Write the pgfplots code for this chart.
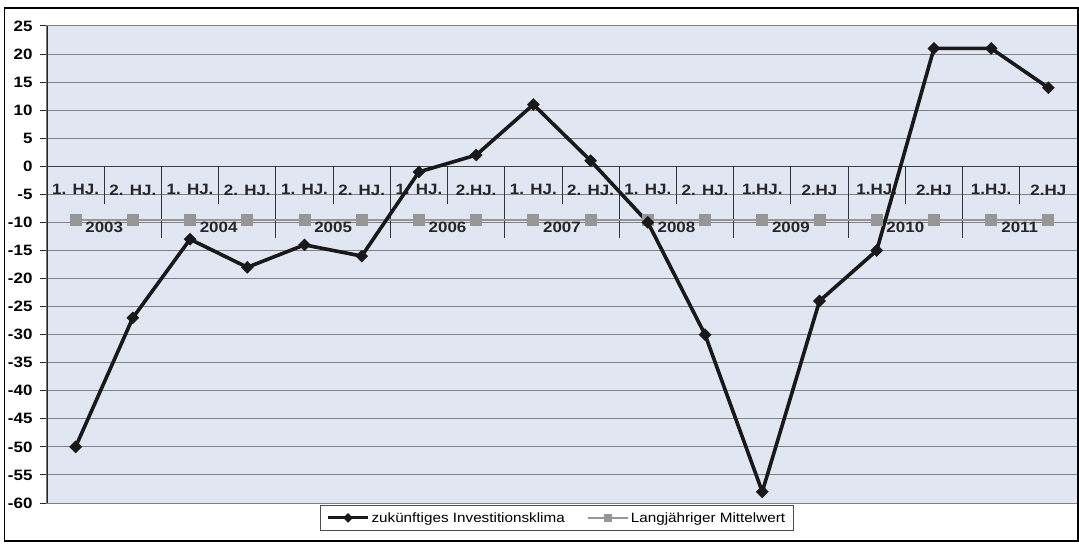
\documentclass[border=0pt]{standalone}
\usepackage{fontspec}
\setmainfont{Liberation Sans}[FakeStretch=1.13]
\usepackage{pgfplots}
\pgfplotsset{compat=1.18}
\usetikzlibrary{calc}
\definecolor{bgc}{RGB}{225,230,243}
\definecolor{gridc}{RGB}{130,130,130}
\definecolor{meanc}{RGB}{150,150,150}
\begin{document}
\begin{tikzpicture}[x=1pt,y=1pt]
\begin{axis}[
  scale only axis, width=1030pt, height=477pt,
  xmin=-0.5, xmax=17.5, ymin=-60, ymax=25,
  xtick=\empty,
  ytick={-60,-55,...,25},
  ymajorgrids,
  major grid style={gridc, line width=1pt},
  axis background/.style={fill=bgc},
  axis line style={gridc, line width=1pt},
  tick align=outside, ytick pos=left,
  major tick length=7pt,
  y tick style={black!85, line width=1pt},
  yticklabel style={font=\bfseries\fontsize{15}{17}\selectfont, xshift=-4pt},
  /pgf/number format/assume math mode=true,
  legend style={at={(0.495,-0.004)}, anchor=north, legend columns=2,
    draw=black!70, line width=0.8pt, fill=white,
    font=\fontsize{13.5}{15}\selectfont, inner xsep=6pt, inner ysep=5pt,
    /tikz/every even column/.append style={column sep=20pt}},
  legend cell align=left,
  legend image code/.code={\draw[mark repeat=2,mark phase=2,#1] plot coordinates {(0pt,0pt) (20pt,0pt) (40pt,0pt)};},
]
\coordinate (SW) at (rel axis cs:0,0);
\addlegendimage{black!90, line width=3pt, mark=square*, mark size=3.2pt, mark options={rotate=45, fill=black!90, line width=0.3pt}}
\addlegendentry{zukünftiges Investitionsklima}
\addlegendimage{meanc, line width=2pt, mark=square*, mark size=3.8pt, mark options={fill=meanc, draw=meanc, line width=0pt}}
\addlegendentry{Langjähriger Mittelwert}
% category axis at zero
\draw[black!75, line width=1.1pt] (-0.5,0) -- (17.5,0);
% short dividers between half-years
\draw[black!80, line width=0.9pt] (0.5,0) -- (0.5,-6.7);
\draw[black!80, line width=0.9pt] (2.5,0) -- (2.5,-6.7);
\draw[black!80, line width=0.9pt] (4.5,0) -- (4.5,-6.7);
\draw[black!80, line width=0.9pt] (6.5,0) -- (6.5,-6.7);
\draw[black!80, line width=0.9pt] (8.5,0) -- (8.5,-6.7);
\draw[black!80, line width=0.9pt] (10.5,0) -- (10.5,-6.7);
\draw[black!80, line width=0.9pt] (12.5,0) -- (12.5,-6.7);
\draw[black!80, line width=0.9pt] (14.5,0) -- (14.5,-6.7);
\draw[black!80, line width=0.9pt] (16.5,0) -- (16.5,-6.7);
% year dividers
\draw[black!80, line width=0.9pt] (1.5,0) -- (1.5,-12.7);
\draw[black!80, line width=0.9pt] (3.5,0) -- (3.5,-12.7);
\draw[black!80, line width=0.9pt] (5.5,0) -- (5.5,-12.7);
\draw[black!80, line width=0.9pt] (7.5,0) -- (7.5,-12.7);
\draw[black!80, line width=0.9pt] (9.5,0) -- (9.5,-12.7);
\draw[black!80, line width=0.9pt] (11.5,0) -- (11.5,-12.7);
\draw[black!80, line width=0.9pt] (13.5,0) -- (13.5,-12.7);
\draw[black!80, line width=0.9pt] (15.5,0) -- (15.5,-12.7);
% half-year labels
\begin{scope}[font=\bfseries\fontsize{15}{17}\selectfont, text=black!85]
\node at (0,-4.2) {1. HJ.};  \node at (1,-4.2) {2. HJ.};
\node at (2,-4.2) {1. HJ.};  \node at (3,-4.2) {2. HJ.};
\node at (4,-4.2) {1. HJ.};  \node at (5,-4.2) {2. HJ.};
\node at (6,-4.2) {1. HJ.};  \node at (7,-4.2) {2.HJ.};
\node at (8,-4.2) {1. HJ.};  \node at (9,-4.2) {2. HJ.};
\node at (10,-4.2) {1. HJ.}; \node at (11,-4.2) {2. HJ.};
\node at (12,-4.2) {1.HJ.};  \node at (13,-4.2) {2.HJ};
\node at (14,-4.2) {1.HJ.};  \node at (15,-4.2) {2.HJ};
\node at (16,-4.2) {1.HJ.};  \node at (17,-4.2) {2.HJ};
\end{scope}
\addplot[forget plot, meanc, line width=2.6pt, mark=square*, mark size=5.5pt,
  mark options={fill=meanc, draw=meanc, line width=0pt}] coordinates {
(0,-9.6) (1,-9.6) (2,-9.6) (3,-9.6) (4,-9.6) (5,-9.6) (6,-9.6) (7,-9.6) (8,-9.6)
(9,-9.6) (10,-9.6) (11,-9.6) (12,-9.6) (13,-9.6) (14,-9.6) (15,-9.6) (16,-9.6) (17,-9.6)};
% year labels
\begin{scope}[font=\bfseries\fontsize{15}{17}\selectfont, text=black!85]
\node at (0.5,-10.9) {2003};
\node at (2.5,-10.9) {2004};
\node at (4.5,-10.9) {2005};
\node at (6.5,-10.9) {2006};
\node at (8.5,-10.9) {2007};
\node at (10.5,-10.9) {2008};
\node at (12.5,-10.9) {2009};
\node at (14.5,-10.9) {2010};
\node at (16.5,-10.9) {2011};
\end{scope}
\addplot[forget plot, black!90, line width=3.6pt, mark=square*, mark size=4.3pt,
  mark options={rotate=45, fill=black!90, line width=0.3pt}] coordinates {
(0,-50) (1,-27) (2,-13) (3,-18) (4,-14) (5,-16) (6,-1) (7,2) (8,11)
(9,1) (10,-10) (11,-30) (12,-58) (13,-24) (14,-15) (15,21) (16,21) (17,14)};
\draw[black!85, line width=1.1pt] (-0.5,-60) -- (-0.5,25);
\end{axis}
\pgfresetboundingbox
\path[use as bounding box] ($(SW)+(-47,-41)$) rectangle ($(SW)+(1032,503)$);
\draw[black, line width=1.3pt] ($(SW)+(-42.5,-38)$) rectangle ($(SW)+(1031,495)$);
\end{tikzpicture}
\end{document}
